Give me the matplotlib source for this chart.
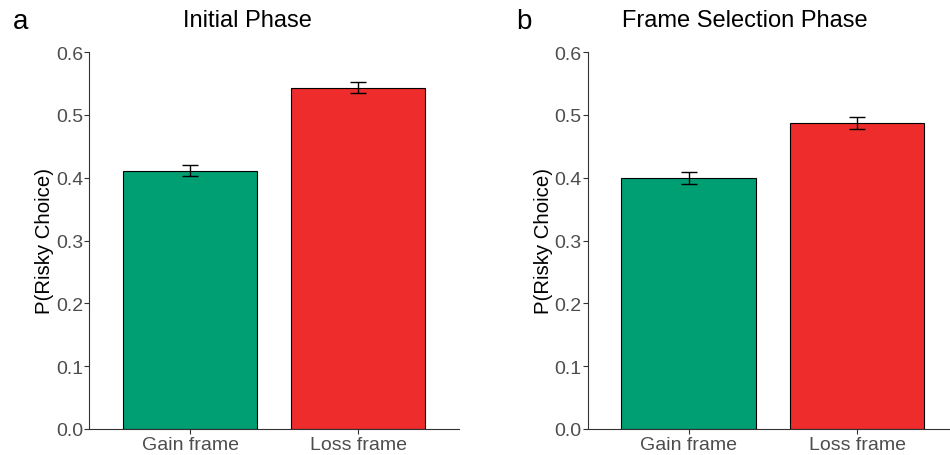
import matplotlib.pyplot as plt

plt.rcParams['font.family'] = ['Liberation Sans', 'DejaVu Sans']

# data
frames = ['Gain frame', 'Loss frame']
initial_means = [0.411, 0.543]
initial_se = [0.009, 0.0085]
selection_means = [0.399, 0.4875]
selection_se = [0.0095, 0.0095]
panel_titles = ['Initial Phase', 'Frame Selection Phase']
panel_letters = ['a', 'b']
yticks = [0.0, 0.1, 0.2, 0.3, 0.4, 0.5, 0.6]

bar_colors = ['#009E73', '#EE2C2C']
axis_col = '#333333'
tick_col = '#4d4d4d'

fig = plt.figure(figsize=(9.5, 4.56), dpi=100)
W, H = 950, 456

def px_axes(x0, x1, y0, y1):
    # pixel box -> figure fraction
    return fig.add_axes([x0 / W, 1 - y1 / H, (x1 - x0) / W, (y1 - y0) / H])

axes = [px_axes(89.3, 459.0, 53, 430), px_axes(587.7, 958.0, 53, 430)]
panel_data = [(initial_means, initial_se), (selection_means, selection_se)]

for ax, (means, se) in zip(axes, panel_data):
    xs = [1, 2]
    ax.bar(xs, means, width=0.8, color=bar_colors, edgecolor='black', linewidth=0.8, zorder=2)
    ax.errorbar(xs, means, yerr=se, fmt='none', ecolor='black', elinewidth=1.0,
                capsize=6, capthick=1.0, zorder=3, clip_on=False)
    ax.set_xlim(0.4, 2.6)
    ax.set_ylim(0, 0.6)
    ax.set_xticks(xs)
    ax.set_xticklabels(frames)
    ax.set_yticks(yticks)
    ax.set_yticklabels([f'{t:.1f}' for t in yticks])
    ax.tick_params(axis='both', colors=axis_col, labelcolor=tick_col, labelsize=14,
                   length=3.5, width=0.8, pad=1.5)
    ax.tick_params(axis='y', pad=1)
    for side in ['top', 'right']:
        ax.spines[side].set_visible(False)
    for side in ['left', 'bottom']:
        ax.spines[side].set_color(axis_col)
        ax.spines[side].set_linewidth(0.8)
    ax.set_ylabel('P(Risky Choice)', fontsize=14.7, color='black', labelpad=1)

# titles and panel letters placed like the reference
fig.text(247 / W, 1 - 21 / H, panel_titles[0], fontsize=17, ha='center', va='center')
fig.text(745 / W, 1 - 21 / H, panel_titles[1], fontsize=17, ha='center', va='center')
fig.text(13 / W, 1 - 29 / H, panel_letters[0], fontsize=20, ha='left', va='baseline')
fig.text(516 / W, 1 - 29 / H, panel_letters[1], fontsize=20, ha='left', va='baseline')

fig.savefig('out.png', dpi=100)
